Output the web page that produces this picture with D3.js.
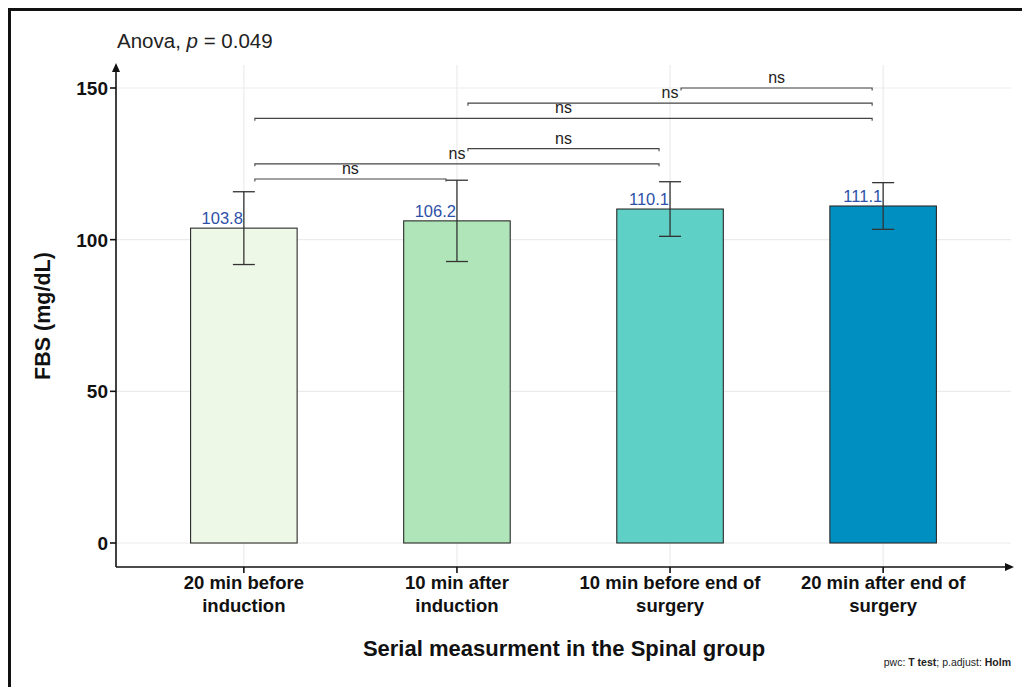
<!DOCTYPE html>
<html><head><meta charset="utf-8">
<script src="https://cdn.jsdelivr.net/npm/d3@7"></script>
<style>body{margin:0;background:#fff}svg{display:block}text{font-family:"Liberation Sans",Arial,sans-serif}</style>
</head><body>
<svg id="c" width="1022" height="687"></svg>
<script>
const categories = [["20 min before","induction"],["10 min after","induction"],["10 min before end of","surgery"],["20 min after end of","surgery"]];
const means = [103.8, 106.2, 110.1, 111.1];
const sds = [12.0, 13.4, 9.0, 7.7];
const barColors = ["#eef8e6", "#afe5b9", "#5fd0c6", "#008fc1"];
const yTicks = [0, 50, 100, 150];
const comparisons = [
  {g1:0, g2:1, y:120, label:"ns"},
  {g1:0, g2:2, y:125, label:"ns"},
  {g1:1, g2:2, y:130, label:"ns"},
  {g1:0, g2:3, y:140, label:"ns"},
  {g1:1, g2:3, y:145, label:"ns"},
  {g1:2, g2:3, y:150, label:"ns"}
];

const svg = d3.select("#c");
const pL = 116, pR = 1011, pT = 65, pB = 567;
const idx = categories.map((d,i)=>i);
const x = d3.scalePoint().domain(idx).range([pL, pR]).padding(0.6);
const step = x.step();
const y = d3.scaleLinear().domain([0,150]).range([543, 88]);

// frame
svg.append("path").attr("d","M9.5,690 L9.5,9.5 L1030,9.5").attr("fill","none").attr("stroke","#111").attr("stroke-width",3);

// grid
const g = svg.append("g");
g.selectAll(".hg").data(yTicks).join("line").attr("x1",pL).attr("x2",pR)
  .attr("y1",d=>y(d)).attr("y2",d=>y(d)).attr("stroke","#ebebeb").attr("stroke-width",1.2);
g.selectAll(".vg").data(idx).join("line").attr("x1",d=>x(d)).attr("x2",d=>x(d))
  .attr("y1",pT).attr("y2",pB).attr("stroke","#ebebeb").attr("stroke-width",1.2);

// bars
const bw = step*0.5;
svg.selectAll(".bar").data(idx).join("rect")
  .attr("x",d=>x(d)-bw/2).attr("width",bw)
  .attr("y",d=>y(means[d])).attr("height",d=>y(0)-y(means[d]))
  .attr("fill",d=>barColors[d]).attr("stroke","#2b2b2b").attr("stroke-width",1.1);

// value labels
svg.selectAll(".vl").data(idx).join("text")
  .attr("x",d=>x(d)-1).attr("y",d=>y(means[d])-4)
  .attr("text-anchor","end").attr("font-size",16.5).attr("fill","#2d50a8")
  .text(d=>means[d].toFixed(1));

// error bars
const cap = 11;
const eb = svg.append("g").attr("stroke","#333").attr("stroke-width",1.3);
idx.forEach(i=>{
  const cx = x(i), hi = y(means[i]+sds[i]), lo = y(means[i]-sds[i]);
  eb.append("line").attr("x1",cx).attr("x2",cx).attr("y1",hi).attr("y2",lo);
  eb.append("line").attr("x1",cx-cap).attr("x2",cx+cap).attr("y1",hi).attr("y2",hi);
  eb.append("line").attr("x1",cx-cap).attr("x2",cx+cap).attr("y1",lo).attr("y2",lo);
});

// brackets
const sh = 11, tip = 2.5;
const br = svg.append("g");
comparisons.forEach(c=>{
  const x1 = x(c.g1)+sh, x2 = x(c.g2)-sh, yy = y(c.y);
  br.append("path").attr("d",`M${x1},${yy+tip} L${x1},${yy} L${x2},${yy} L${x2},${yy+tip}`)
    .attr("fill","none").attr("stroke","#444").attr("stroke-width",1.1);
  br.append("text").attr("x",(x1+x2)/2).attr("y",yy-5).attr("text-anchor","middle")
    .attr("font-size",16).attr("fill","#222").text(c.label);
});

// y axis
const ax = svg.append("g").attr("stroke","#111").attr("stroke-width",1.6);
ax.append("line").attr("x1",pL).attr("x2",pL).attr("y1",pB).attr("y2",pT+4);
svg.append("path").attr("d",`M${pL},${pT-2} L${pL-4},${pT+7} L${pL+4},${pT+7} Z`).attr("fill","#111");
ax.selectAll(".yt").data(yTicks).join("line").attr("x1",pL-6).attr("x2",pL).attr("y1",d=>y(d)).attr("y2",d=>y(d));
svg.selectAll(".ytl").data(yTicks).join("text").attr("x",pL-8).attr("y",d=>y(d)+7)
  .attr("text-anchor","end").attr("font-size",19).attr("font-weight","bold").attr("fill","#111").text(d=>d);

// x axis
ax.append("line").attr("x1",pL).attr("x2",pR-3).attr("y1",pB).attr("y2",pB);
svg.append("path").attr("d",`M${pR+3},${pB} L${pR-6},${pB-4} L${pR-6},${pB+4} Z`).attr("fill","#111");
ax.selectAll(".xt").data(idx).join("line").attr("x1",d=>x(d)).attr("x2",d=>x(d)).attr("y1",pB).attr("y2",pB+6);
const xl = svg.selectAll(".xtl").data(idx).join("text").attr("text-anchor","middle")
  .attr("font-size",18.5).attr("font-weight","bold").attr("fill","#111");
xl.each(function(d){
  const t = d3.select(this);
  categories[d].forEach((line,k)=>{
    t.append("tspan").attr("x",x(d)).attr("y",589+k*22.5).text(line);
  });
});

// titles
svg.append("text").attr("x",564).attr("y",656).attr("text-anchor","middle")
  .attr("font-size",22).attr("font-weight","bold").attr("fill","#111").text("Serial measurment in the Spinal group");
svg.append("text").attr("transform","translate(50,316) rotate(-90)").attr("text-anchor","middle")
  .attr("font-size",21.5).attr("font-weight","bold").attr("fill","#111").text("FBS (mg/dL)");
const tt = svg.append("text").attr("x",117).attr("y",48).attr("font-size",20.5).attr("fill","#222");
tt.append("tspan").text("Anova, ");
tt.append("tspan").attr("font-style","italic").text("p");
tt.append("tspan").text(" = 0.049");
const cp = svg.append("text").attr("x",1011).attr("y",666).attr("text-anchor","end").attr("font-size",10.5).attr("fill","#222");
cp.append("tspan").text("pwc: ");
cp.append("tspan").attr("font-weight","bold").text("T test");
cp.append("tspan").text("; p.adjust: ");
cp.append("tspan").attr("font-weight","bold").text("Holm");
</script>
</body></html>
